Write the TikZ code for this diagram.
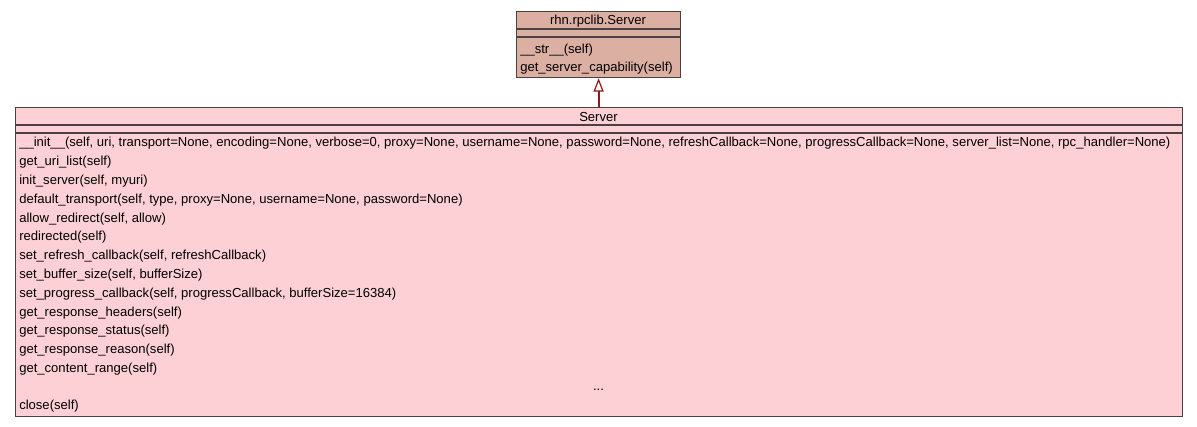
\documentclass[tikz,border=0pt]{standalone}
\usepackage{fontspec}
\setmainfont{Liberation Sans}
\usetikzlibrary{arrows.meta}
\definecolor{basefill}{HTML}{DCAFA3}
\definecolor{subfill}{HTML}{FCD0D4}
\definecolor{frame}{HTML}{4A4242}
\definecolor{inherit}{HTML}{8C1A1A}
\tikzset{
  classbox/.style={draw=frame, line width=0.9pt, inner sep=0pt, anchor=north west},
  member/.style={anchor=base west, inner sep=0pt, font=\fontsize{9.8}{11.8}\selectfont},
  title/.style={anchor=base, inner sep=0pt, font=\fontsize{9.8}{11.8}\selectfont},
  sepline/.style={draw=frame, line width=0.9pt},
  generalization/.style={draw=inherit, line width=1.5pt,
    -{Triangle[open, length=10pt, width=7.5pt, line width=0.9pt, fill=white]}}
}
\begin{document}
\begin{tikzpicture}[x=0.75pt, y=-0.75pt]
  % canvas
  \fill[white] (0,0) rectangle (1197,427);
  \useasboundingbox (0,0) rectangle (1197,427);

  % base class
  \node[classbox, fill=basefill, minimum width=123pt, minimum height=49.5pt] (base) at (516,11) {};
  \draw[sepline] (516,29) -- (680,29);
  \draw[sepline] (516,37) -- (680,37);
  \node[title] (basename) at (598,25) {rhn.rpclib.Server};
  \node[member] (bstr) at (520,53.5) {\_\_str\_\_(self)};
  \node[member] (bcap) at (520,72) {get\_server\_capability(self)};

  % derived class
  \node[classbox, fill=subfill, minimum width=875.25pt, minimum height=231.75pt] (sub) at (15,107) {};
  \draw[sepline] (15,125) -- (1182,125);
  \draw[sepline] (15,133) -- (1182,133);
  \node[title] (subname) at (598.5,122) {Server};

  \node[member] (m1) at (19,147) {\_\_init\_\_(self, uri, transport=None, encoding=None, verbose=0, proxy=None, username=None, password=None, refreshCallback=None, progressCallback=None, server\_list=None, rpc\_handler=None)};
  \node[member] (m2) at (19,165.8) {get\_uri\_list(self)};
  \node[member] (m3) at (19,184.6) {init\_server(self, myuri)};
  \node[member] (m4) at (19,203.4) {default\_transport(self, type, proxy=None, username=None, password=None)};
  \node[member] (m5) at (19,222.2) {allow\_redirect(self, allow)};
  \node[member] (m6) at (19,241) {redirected(self)};
  \node[member] (m7) at (19,259.8) {set\_refresh\_callback(self, refreshCallback)};
  \node[member] (m8) at (19,278.6) {set\_buffer\_size(self, bufferSize)};
  \node[member] (m9) at (19,297.4) {set\_progress\_callback(self, progressCallback, bufferSize=16384)};
  \node[member] (m10) at (19,316.2) {get\_response\_headers(self)};
  \node[member] (m11) at (19,335) {get\_response\_status(self)};
  \node[member] (m12) at (19,353.8) {get\_response\_reason(self)};
  \node[member] (m13) at (19,372.6) {get\_content\_range(self)};
  \node[title] (more) at (598.5,390.4) {...};
  \node[member] (m14) at (19,410) {close(self)};

  % inheritance
  \draw[generalization] (sub.north -| base.south) -- (base.south);
\end{tikzpicture}
\end{document}
